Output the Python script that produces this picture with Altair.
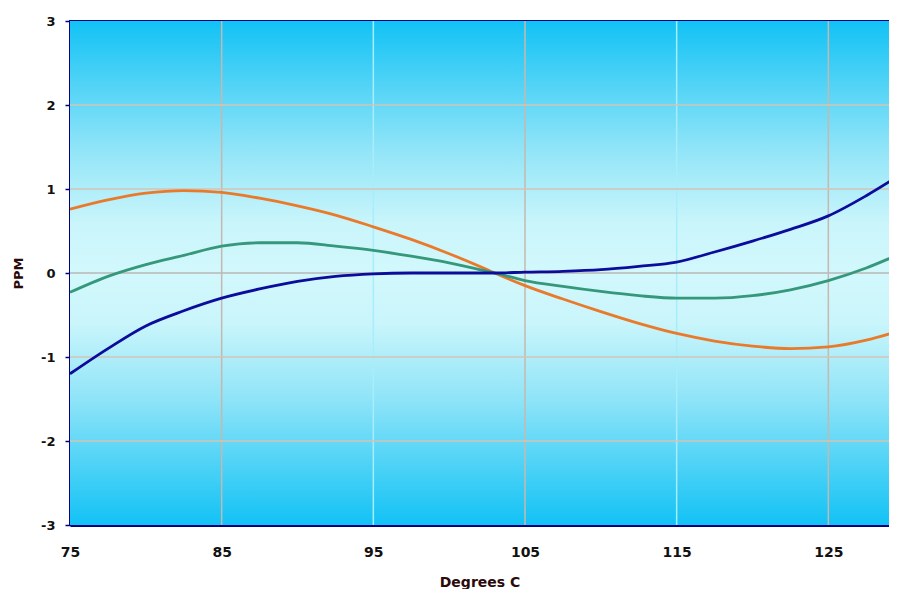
import altair as alt
import pandas as pd

temps = [75, 77.5, 80, 82.5, 85, 87.5, 90, 92.5, 95, 97.5, 100, 102.5, 103,
         105, 107.5, 110, 112.5, 115, 117.5, 120, 122.5, 125, 127.5, 129.5]
orange_vals = [0.76, 0.87, 0.95, 0.98, 0.96, 0.89, 0.80, 0.69, 0.55, 0.40, 0.23, 0.04, 0.0,
               -0.15, -0.31, -0.46, -0.60, -0.72, -0.81, -0.87, -0.90, -0.88, -0.80, -0.70]
green_vals = [-0.23, -0.04, 0.10, 0.21, 0.32, 0.36, 0.36, 0.32, 0.27, 0.20, 0.12, 0.02, 0.0,
              -0.09, -0.16, -0.22, -0.27, -0.30, -0.30, -0.27, -0.20, -0.09, 0.06, 0.21]
blue_vals = [-1.20, -0.90, -0.63, -0.45, -0.30, -0.19, -0.10, -0.04, -0.01, 0.0, 0.0, 0.0, 0.0,
             0.01, 0.02, 0.04, 0.08, 0.13, 0.25, 0.38, 0.52, 0.68, 0.92, 1.14]

series_names = ["A", "B", "C"]
series_colors = ["#E97A2B", "#35987A", "#0C0C9C"]

x_ticks = [75, 85, 95, 105, 115, 125]
y_ticks = [-3, -2, -1, 0, 1, 2, 3]
vgrid_vals = [85, 95, 105, 115, 125]
vgrid_cols = ["#C6B8AE", "#A6EEFA", "#C6B8AE", "#A6EEFA", "#C6B8AE"]
hgrid_vals = [-2, -1, 0, 1, 2]
hgrid_cols = ["#D2C4B4", "#D2C4B4", "#B8B8B8", "#D2C4B4", "#D2C4B4"]

W, H = 819, 504

rows = []
for name, vals in zip(series_names, [orange_vals, green_vals, blue_vals]):
    for t, v in zip(temps, vals):
        rows.append({"t": t, "v": v, "s": name})
df = pd.DataFrame(rows)

xscale = alt.Scale(domain=[75, 129.0], nice=False, zero=False)
yscale = alt.Scale(domain=[-3, 3], nice=False, zero=False)

bg = alt.Chart(pd.DataFrame({"a": [0]})).mark_rect(
    fill=alt.Gradient(
        gradient="linear", x1=0, x2=0, y1=0, y2=1,
        stops=[
            alt.GradientStop(color="#12C2F5", offset=0),
            alt.GradientStop(color="#8FE4F8", offset=0.25),
            alt.GradientStop(color="#C9F5FB", offset=0.40),
            alt.GradientStop(color="#D2F8FC", offset=0.5),
            alt.GradientStop(color="#C9F5FB", offset=0.60),
            alt.GradientStop(color="#8FE4F8", offset=0.75),
            alt.GradientStop(color="#12C2F5", offset=1),
        ],
    )
).encode(x=alt.value(0), x2=alt.value(W), y=alt.value(0), y2=alt.value(H))

vgrid = alt.Chart(pd.DataFrame({"g": vgrid_vals, "c": vgrid_cols})).mark_rule(strokeWidth=1.5).encode(
    x=alt.X("g:Q", scale=xscale), color=alt.Color("c:N", scale=None)
)
hgrid = alt.Chart(pd.DataFrame({"g": hgrid_vals, "c": hgrid_cols})).mark_rule(strokeWidth=1.5).encode(
    y=alt.Y("g:Q", scale=yscale), color=alt.Color("c:N", scale=None)
)

lines = alt.Chart(df).mark_line(strokeWidth=2.8, interpolate="monotone", clip=True).encode(
    x=alt.X("t:Q", scale=xscale, title="Degrees C",
            axis=alt.Axis(values=x_ticks, ticks=False, labelPadding=20, grid=False,
                          labelFlush=False, labelOverlap=False,
                          titlePadding=16, labelExpr="'' + datum.value")),
    y=alt.Y("v:Q", scale=yscale, title="PPM",
            axis=alt.Axis(values=y_ticks, tickSize=5, labelPadding=10, grid=False,
                          labelFlush=False, labelOverlap=False,
                          labelExpr="'' + datum.value",
                          titleX=-52, titleY=H / 2, titleBaseline="middle",
                          titleAlign="center", titleAngle=270)),
    color=alt.Color("s:N", scale=alt.Scale(domain=series_names, range=series_colors), legend=None),
)

chart = alt.layer(bg, vgrid, hgrid, lines).properties(
    width=W, height=H,
    autosize=alt.AutoSizeParams(type="none"),
    padding={"left": 62, "top": 13, "right": 0, "bottom": 64},
).configure_view(
    stroke="#000080", strokeWidth=2
).configure_axis(
    domainColor="#000080", domainWidth=3, tickColor="#000080", tickWidth=1.5,
    labelFont="DejaVu Sans", labelFontWeight="bold", labelFontSize=13, labelColor="#111111",
    titleFont="DejaVu Sans", titleFontWeight="bold", titleFontSize=13, titleColor="#2a0a0a",
).configure_axisX(labelFontSize=14, titleFontSize=14)

chart.save("out.html", embed_options={"renderer": "svg", "actions": False})
